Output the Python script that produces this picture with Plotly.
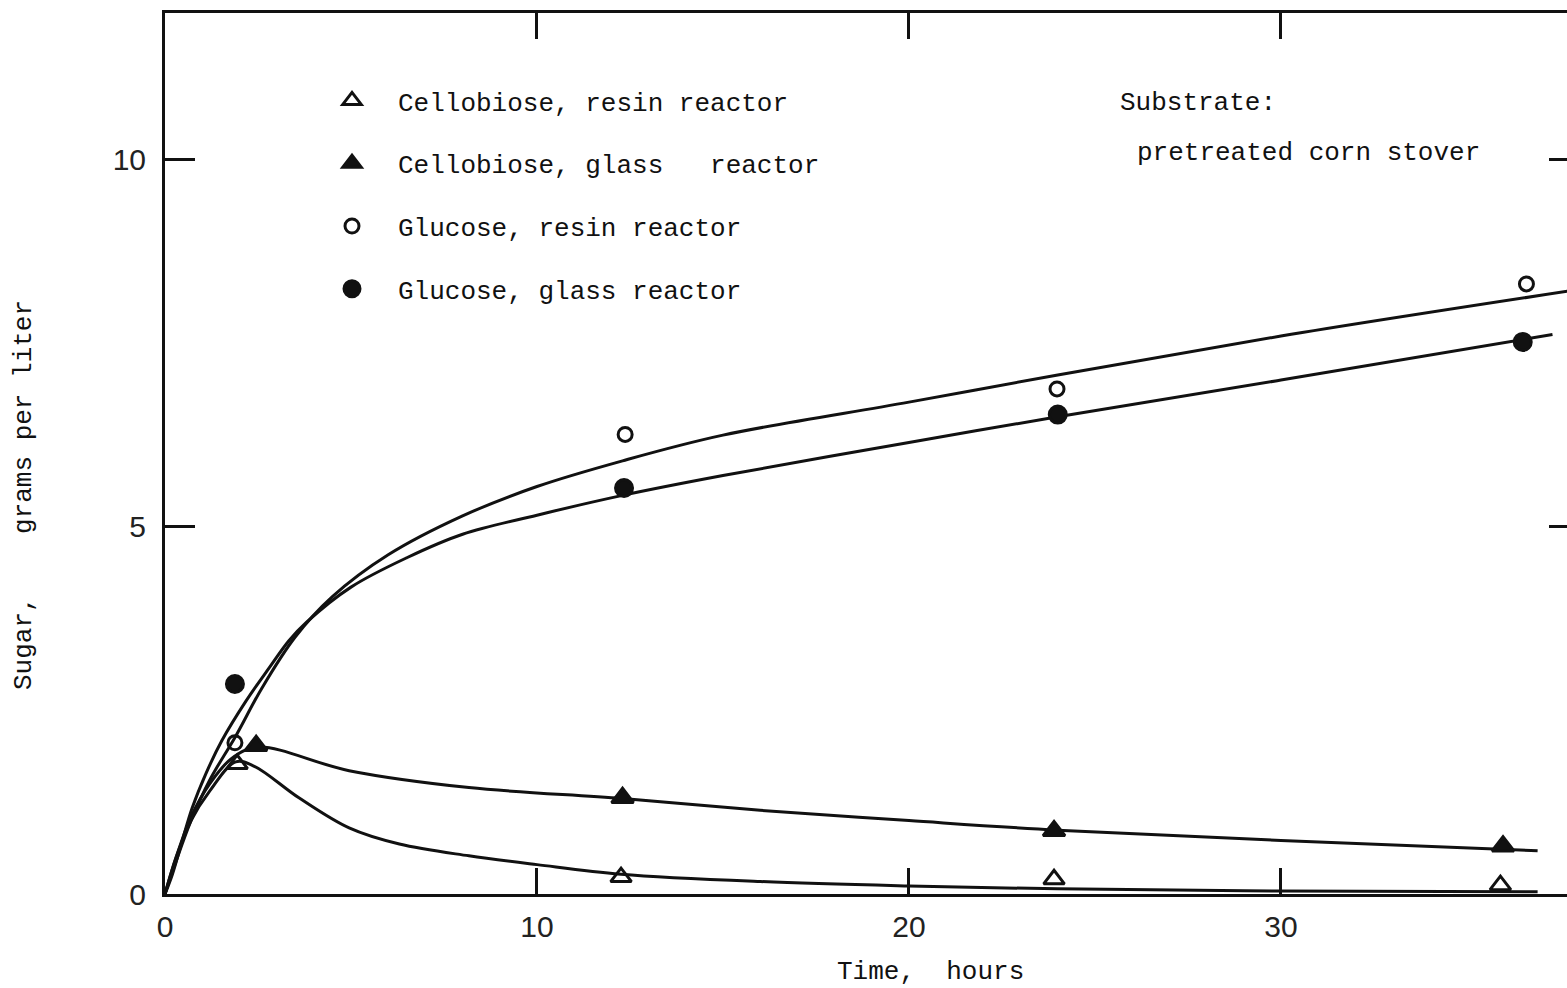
import plotly.graph_objects as go

# ---- measured data points (time in hours, sugar in g/L) ----
cello_resin_t = [1.94, 12.26, 23.9, 35.9]
cello_resin_y = [1.77, 0.23, 0.20, 0.12]

cello_glass_t = [2.45, 12.3, 23.9, 35.97]
cello_glass_y = [2.02, 1.31, 0.86, 0.65]

gluc_resin_t = [1.88, 12.37, 23.98, 36.6]
gluc_resin_y = [2.06, 6.26, 6.88, 8.31]

gluc_glass_t = [1.88, 12.34, 24.0, 36.5]
gluc_glass_y = [2.86, 5.53, 6.53, 7.52]

# ---- hand-drawn smooth curves ----
cr_curve_t = [0, 0.3, 0.7, 1.2, 1.9, 2.4, 3.6, 4.95, 6.3, 8.17, 10.0, 12.26, 16.0, 20.0, 24.0, 30.0, 36.9]
cr_curve_y = [0, 0.5, 1.0, 1.4, 1.8, 1.74, 1.31, 0.90, 0.68, 0.52, 0.40, 0.27, 0.17, 0.11, 0.07, 0.04, 0.03]

cg_curve_t = [0, 0.3, 0.7, 1.2, 1.8, 2.5, 4.95, 8.17, 12.3, 16.0, 20.0, 24.0, 30.0, 36.9]
cg_curve_y = [0, 0.5, 1.05, 1.5, 1.85, 2.0, 1.68, 1.45, 1.30, 1.14, 1.00, 0.87, 0.73, 0.59]

gr_curve_t = [0, 0.3, 0.7, 1.2, 1.9, 2.6, 3.5, 4.5, 6.0, 8.0, 10.0, 12.3, 15.0, 20.0, 24.0, 30.0, 37.7]
gr_curve_y = [0, 0.45, 1.0, 1.55, 2.15, 2.8, 3.5, 4.05, 4.62, 5.15, 5.55, 5.9, 6.25, 6.7, 7.07, 7.6, 8.21]

gg_curve_t = [0, 0.2, 0.46, 0.73, 1.1, 1.53, 2.18, 2.8, 3.33, 3.8, 5.0, 6.5, 8.0, 10.0, 12.3, 15.0, 20.0, 24.0, 30.0, 37.3]
gg_curve_y = [0, 0.27, 0.72, 1.17, 1.64, 2.09, 2.63, 3.08, 3.45, 3.7, 4.18, 4.58, 4.9, 5.16, 5.43, 5.7, 6.15, 6.5, 7.0, 7.62]

legend_names = ["Cellobiose, resin reactor", "Cellobiose, glass   reactor",
                "Glucose, resin reactor", "Glucose, glass reactor"]

x_ticks = [0, 10, 20, 30]
y_ticks = [0, 5, 10]

MONO = "Liberation Mono, Courier New, monospace"
SANS = "Liberation Sans, Arial, sans-serif"
INK = "#111111"

W, H = 1567, 988
ML, MR, MT, MB = 165, 0, 13, 94
PW, PH = W - ML - MR, H - MT - MB


def px_x(p):
    return (p - ML) / PW


def px_y(p):
    return 1 - (p - MT) / PH


fig = go.Figure()

# curves
for t, y in [(cr_curve_t, cr_curve_y), (cg_curve_t, cg_curve_y),
             (gr_curve_t, gr_curve_y), (gg_curve_t, gg_curve_y)]:
    fig.add_trace(go.Scatter(x=t, y=y, mode="lines",
                             line=dict(color=INK, width=3, shape="spline", smoothing=1.0),
                             showlegend=False, hoverinfo="skip"))

# markers
marker_specs = [
    (cello_resin_t, cello_resin_y, "triangle-up-open", 18),
    (cello_glass_t, cello_glass_y, "triangle-up", 19),
    (gluc_resin_t, gluc_resin_y, "circle-open", 14),
    (gluc_glass_t, gluc_glass_y, "circle", 17),
]
for i, (t, y, sym, sz) in enumerate(marker_specs):
    fig.add_trace(go.Scatter(
        x=t, y=y, mode="markers", name=legend_names[i],
        legendgroup=f"g{i}",
        marker=dict(symbol=sym, size=sz, color=INK,
                    line=dict(color=INK, width=3)),
    ))

# dummy trace to bind right-hand tick axis
fig.add_trace(go.Scatter(x=[None], y=[None], yaxis="y2", showlegend=False,
                         hoverinfo="skip"))

fig.update_layout(
    width=W, height=H,
    margin=dict(l=ML, r=MR, t=MT, b=MB, autoexpand=False),
    paper_bgcolor="white", plot_bgcolor="white",
    showlegend=True,
    legend=dict(
        x=px_x(306), y=px_y(77), xanchor="left", yanchor="top",
        font=dict(family=MONO, size=26, color=INK),
        bgcolor="rgba(0,0,0,0)", borderwidth=0,
        tracegroupgap=26, itemwidth=82,
    ),
    xaxis=dict(
        range=[0, 37.69], tickvals=x_ticks, ticktext=[str(v) for v in x_ticks],
        ticks="inside", ticklen=26, tickwidth=3, tickcolor=INK,
        showline=True, linewidth=3, linecolor=INK, mirror="ticks",
        showgrid=False, zeroline=False,
        tickfont=dict(family=SANS, size=30, color="#222222"),
        ticklabelstandoff=4,
    ),
    yaxis=dict(
        range=[0, 12.0], tickvals=y_ticks, ticktext=[str(v) for v in y_ticks],
        ticks="inside", ticklen=30, tickwidth=3, tickcolor=INK,
        showline=True, linewidth=3, linecolor=INK, mirror=False,
        showgrid=False, zeroline=False,
        tickfont=dict(family=SANS, size=30, color="#222222"),
        ticklabelstandoff=10,
    ),
    yaxis2=dict(
        range=[0, 12.0], overlaying="y", side="right",
        tickvals=[5, 10], showticklabels=False,
        ticks="inside", ticklen=18, tickwidth=3, tickcolor=INK,
        showline=False, showgrid=False, zeroline=False,
    ),
    annotations=[
        dict(text="Substrate:", xref="paper", yref="paper",
             x=px_x(1118), y=px_y(103), xanchor="left", yanchor="middle",
             showarrow=False, font=dict(family=MONO, size=26, color=INK)),
        dict(text="pretreated corn stover", xref="paper", yref="paper",
             x=px_x(1135), y=px_y(153), xanchor="left", yanchor="middle",
             showarrow=False, font=dict(family=MONO, size=26, color=INK)),
        dict(text="Time,  hours", xref="paper", yref="paper",
             x=px_x(930), y=px_y(972), xanchor="center", yanchor="middle",
             showarrow=False, font=dict(family=MONO, size=26, color=INK)),
        dict(text="Sugar,    grams per liter", xref="paper", yref="paper",
             x=px_x(24), y=px_y(495), xanchor="center", yanchor="middle",
             textangle=-90,
             showarrow=False, font=dict(family=MONO, size=26, color=INK)),
    ],
)

fig.write_html("out.html", config={"displayModeBar": False},
               post_script="document.body.style.margin='0px';")
